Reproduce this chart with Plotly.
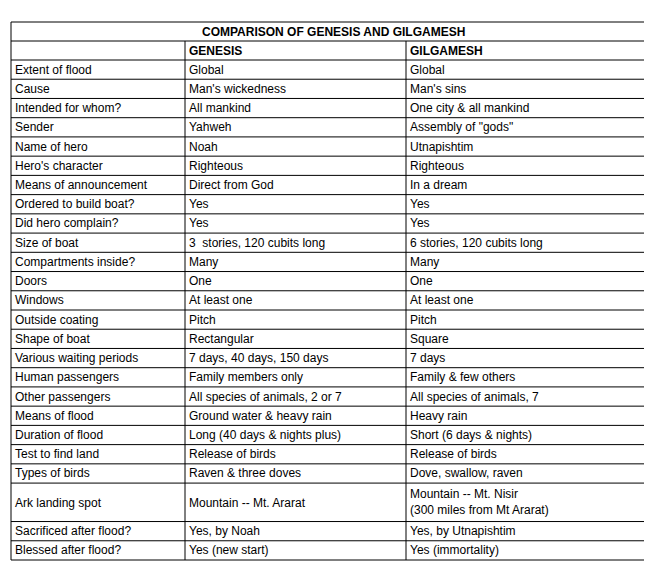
import plotly.graph_objects as go

title = "COMPARISON OF GENESIS AND GILGAMESH"
headers = ["", "GENESIS", "GILGAMESH"]

features = ["Extent of flood", "Cause", "Intended for whom?", "Sender", "Name of hero",
            "Hero's character", "Means of announcement", "Ordered to build boat?",
            "Did hero complain?", "Size of boat", "Compartments inside?", "Doors",
            "Windows", "Outside coating", "Shape of boat", "Various waiting periods",
            "Human passengers", "Other passengers", "Means of flood", "Duration of flood",
            "Test to find land", "Types of birds", "Ark landing spot",
            "Sacrificed after flood?", "Blessed after flood?"]

genesis = ["Global", "Man's wickedness", "All mankind", "Yahweh", "Noah", "Righteous",
           "Direct from God", "Yes", "Yes", "3  stories, 120 cubits long", "Many", "One",
           "At least one", "Pitch", "Rectangular", "7 days, 40 days, 150 days",
           "Family members only", "All species of animals, 2 or 7",
           "Ground water & heavy rain", "Long (40 days & nights plus)", "Release of birds",
           "Raven & three doves", "Mountain -- Mt. Ararat", "Yes, by Noah",
           "Yes (new start)"]

gilgamesh = ["Global", "Man's sins", "One city & all mankind", "Assembly of \"gods\"",
             "Utnapishtim", "Righteous", "In a dream", "Yes", "Yes",
             "6 stories, 120 cubits long", "Many", "One", "At least one", "Pitch",
             "Square", "7 days", "Family & few others", "All species of animals, 7",
             "Heavy rain", "Short (6 days & nights)", "Release of birds",
             "Dove, swallow, raven", "Mountain -- Mt. Nisir<br>(300 miles from Mt Ararat)",
             "Yes, by Utnapishtim", "Yes (immortality)"]

W, H = 652, 561
col_x = [3, 177, 398, 647]
top, head_top, data_top, bottom = 14, 33, 52, 552
font = dict(family="Liberation Sans, Arial", size=12, color="black")

# row heights: double height for rows with two lines
units = [2 if "<br>" in g else 1 for g in gilgamesh]
unit_h = (bottom - data_top) / sum(units)
bounds = [data_top]
for u in units:
    bounds.append(bounds[-1] + u * unit_h)

fig = go.Figure()
line = dict(color="black", width=1)

# outer/title lines
for y in [top, head_top, data_top] + bounds[1:]:
    fig.add_shape(type="line", x0=col_x[0], x1=col_x[-1], y0=y, y1=y, line=line)
fig.add_shape(type="line", x0=col_x[0], x1=col_x[0], y0=top, y1=bottom, line=line)
fig.add_shape(type="line", x0=col_x[-1], x1=col_x[-1], y0=top, y1=bottom, line=line)
for x in col_x[1:-1]:
    fig.add_shape(type="line", x0=x, x1=x, y0=head_top, y1=bottom, line=line)

fig.add_annotation(x=(col_x[0] + col_x[-1]) / 2, y=(top + head_top) / 2,
                   text="<b>%s</b>" % title, showarrow=False, font=font)
for j, h in enumerate(headers):
    if h:
        fig.add_annotation(x=col_x[j] + 2, y=(head_top + data_top) / 2, xanchor="left",
                           text="<b>%s</b>" % h, showarrow=False, font=font)

for i in range(len(features)):
    yc = (bounds[i] + bounds[i + 1]) / 2
    for j, col in enumerate([features, genesis, gilgamesh]):
        txt = col[i]
        align_y = yc
        if units[i] > 1 and "<br>" not in txt:
            align_y = yc + 1
        fig.add_annotation(x=col_x[j] + 2, y=align_y, xanchor="left", align="left",
                           text=txt, showarrow=False, font=font)

fig.update_xaxes(range=[0, W], visible=False, fixedrange=True)
fig.update_yaxes(range=[H, 0], visible=False, fixedrange=True)
fig.update_layout(width=W, height=H, margin=dict(l=0, r=0, t=0, b=0),
                  paper_bgcolor="white", plot_bgcolor="white", showlegend=False)
fig.write_html("out.html")
